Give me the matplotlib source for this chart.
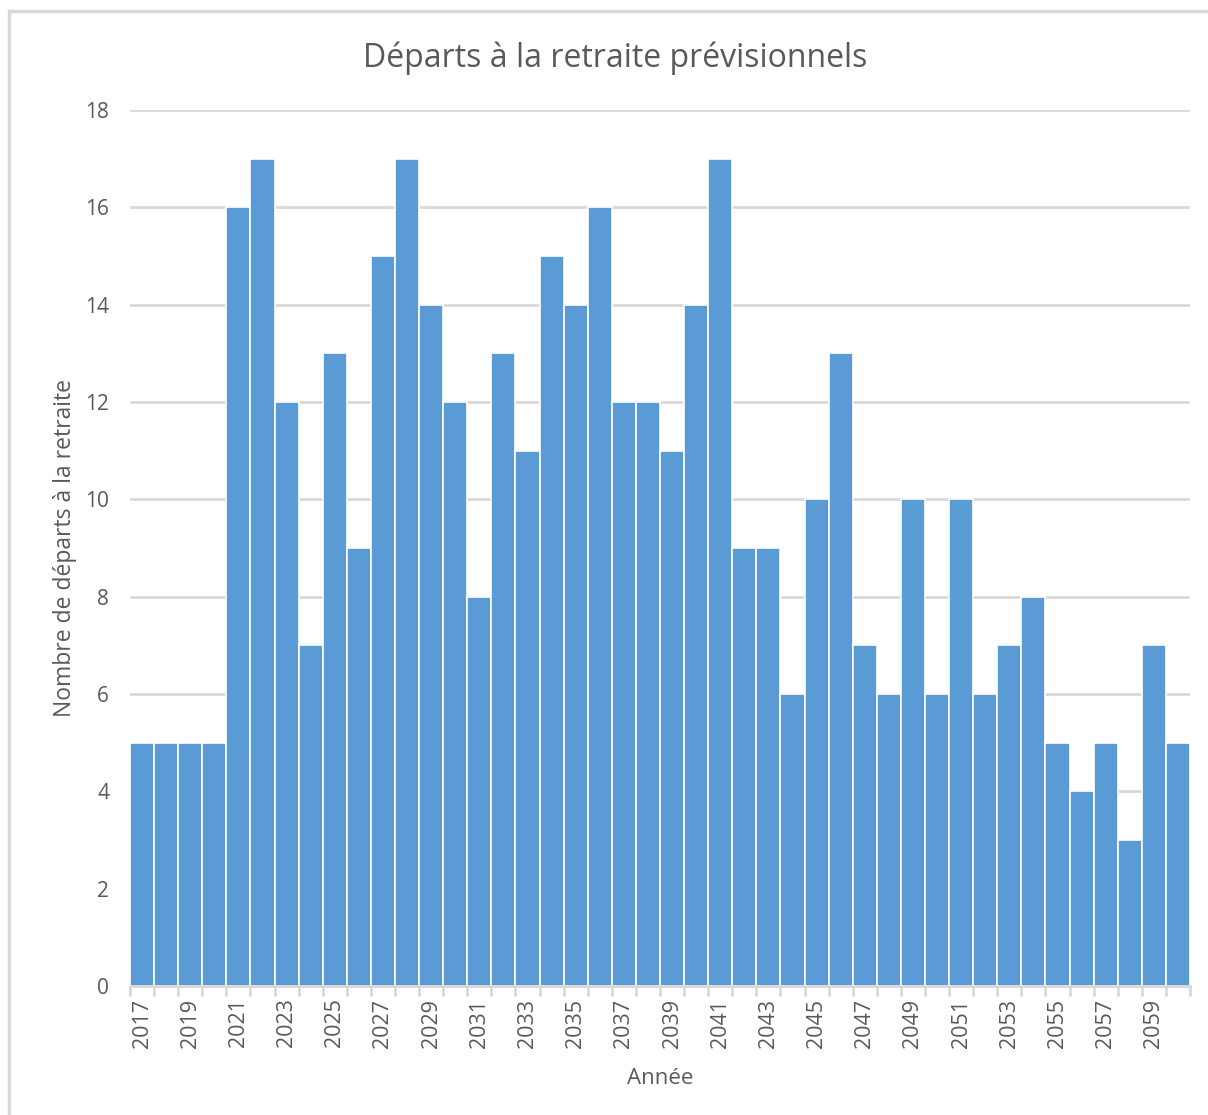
import numpy as np
import matplotlib.pyplot as plt
from matplotlib.patches import Rectangle

# Data
years = list(range(2017, 2061))
departs = [5, 5, 5, 5, 16, 17, 12, 7, 13, 9,
           15, 17, 14, 12, 8, 13, 11, 15, 14, 16,
           12, 12, 11, 14, 17, 9, 9, 6, 10, 13,
           7, 6, 10, 6, 10, 6, 7, 8, 5, 4,
           5, 3, 7, 5]

plt.rcParams['font.family'] = ['Open Sans', 'DejaVu Sans']
text_col = '#595959'
grid_col = '#D9D9D9'

W, H = 1208, 1115
fig = plt.figure(figsize=(W / 100, H / 100), dpi=100)

# chart frame
fig.patches.append(Rectangle((9 / W, -0.1), 1.2, 1 - 11 / H + 0.1, transform=fig.transFigure,
                             fill=False, edgecolor=grid_col, linewidth=2.5))

ax = fig.add_axes([130 / W, 1 - 986 / H, (1190 - 130) / W, (986 - 110) / H])

x = np.arange(len(years))
ax.bar(x, departs, width=1.0, color='#5B9BD5', edgecolor='white', linewidth=1.2, zorder=3)

ax.set_xlim(-0.5, len(years) - 0.5)
ax.set_ylim(0, 18)
ax.set_yticks(range(0, 19, 2))
ax.grid(axis='y', color=grid_col, linewidth=2, zorder=0)

# ticks at bar boundaries, labels every other year
ax.set_xticks(np.arange(-0.5, len(years), 1.0))
ax.set_xticks(x[::2], minor=True)
ax.set_xticklabels([])
ax.set_xticklabels([str(y) for y in years[::2]], minor=True, rotation=90,
                   fontsize=15.5, color=text_col)
ax.tick_params(axis='x', which='major', length=7, width=2, color=grid_col)
ax.tick_params(axis='x', which='minor', length=0, pad=9)
ax.tick_params(axis='y', length=0, labelsize=15, labelcolor=text_col, pad=15)

for s in ['top', 'right', 'left']:
    ax.spines[s].set_visible(False)
ax.spines['bottom'].set_color(grid_col)
ax.spines['bottom'].set_linewidth(2)
ax.spines['bottom'].set_zorder(4)

fig.text(615 / W, 1 - 58 / H, 'Départs à la retraite prévisionnels', fontsize=23,
         color=text_col, ha='center', va='center')
ax.set_xlabel('Année', fontsize=16, color=text_col, labelpad=15)
ax.set_ylabel('Nombre de départs à la retraite', fontsize=16.5, color=text_col, labelpad=6)

fig.savefig('out.png', dpi=100)
